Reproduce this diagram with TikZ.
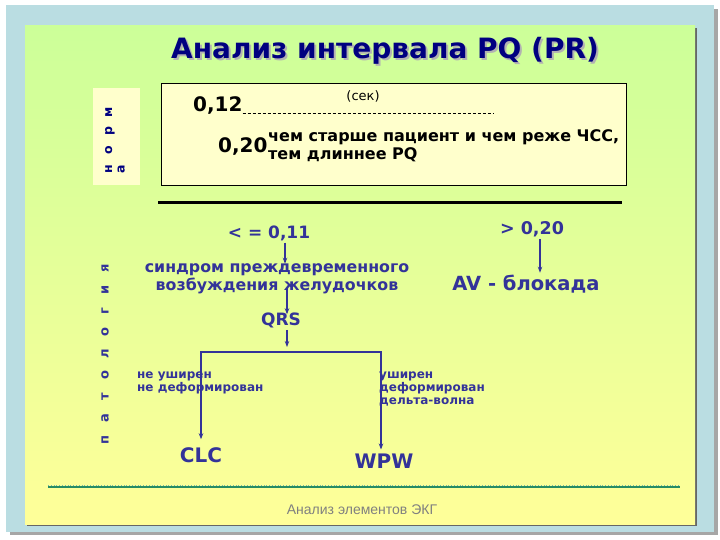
\documentclass[tikz,border=0pt]{standalone}
\usepackage{fontspec}
\setmainfont{DejaVu Sans}
\newfontfamily\footfont{Liberation Sans}
\usetikzlibrary{arrows.meta,calc}
\definecolor{bgblue}{RGB}{186,221,226}
\definecolor{topgreen}{RGB}{204,255,153}
\definecolor{botyellow}{RGB}{255,255,153}
\definecolor{boxfill}{RGB}{255,255,204}
\definecolor{navy}{RGB}{0,0,128}
\definecolor{txtblue}{RGB}{51,51,153}
\definecolor{dotgreen}{RGB}{38,140,100}
\newcommand\fs[1]{\fontsize{#1}{#1}\selectfont}
\newcommand\lt[2]{\makebox[#1pt]{#2}}
\newcommand\shadowed[1]{\rlap{\hspace{2pt}\raisebox{-2pt}{\textcolor{gray!60}{#1}}}#1}
\begin{document}
\begin{tikzpicture}[x=1pt,y=-1pt,
  txt/.style={inner sep=0pt,text=txtblue,font=\bfseries},
  arr/.style={draw=txtblue,line width=1.7pt,-{Stealth[length=6pt,width=4.5pt]}},
  ln/.style={draw=txtblue,line width=2pt}]
\useasboundingbox (0,0) rectangle (720,540);
\fill[white] (0,0) rectangle (720,540);
% frames
\fill[gray!70] (10,9) rectangle (718,535);
\fill[bgblue] (6,5) rectangle (714,532);
\fill[gray!80!black] (27,28) rectangle (697,526);
\shade[top color=topgreen,bottom color=botyellow] (25,26) rectangle (695,524);
% title
\node[inner sep=0pt,font=\fs{28}\bfseries,text=navy] (title) at (385,52) {\shadowed{Анализ интервала PQ (PR)}};
% norma
\node[fill=boxfill,minimum width=47pt,minimum height=97pt,inner sep=0pt] (nbox) at (116.5,136.5) {};
\node[inner sep=0pt,rotate=90,anchor=center,font=\fs{12.5}\bfseries,text=navy,align=left] (norma) at (115,141)
  {\lt{19}{н}\lt{19}{о}\lt{19}{р}\lt{19}{м}\\\lt{19}{а}};
\node[draw=black,fill=boxfill,line width=0.8pt,minimum width=465pt,minimum height=102pt,inner sep=0pt] (mbox) at (393.5,134) {};
\node[inner sep=0pt,font=\fs{13}] (sek) at (363,96) {(сек)};
\node[inner sep=0pt,font=\fs{20}\bfseries,anchor=west] (n12) at (193,106) {0,12};
\coordinate (dEnd) at (493,113);
\draw[dashed,dash pattern=on 3pt off 2pt,line width=0.6pt] (n12.south east |- dEnd) -- (dEnd);
\node[inner sep=0pt,font=\fs{20}\bfseries,anchor=west] (n20) at (218,147) {0,20};
\node[inner sep=0pt,font=\fs{16}\bfseries,anchor=west] (older) at (268,137) {чем старше пациент и чем реже ЧСС,};
\node[inner sep=0pt,font=\fs{16}\bfseries,anchor=west] (longer) at (268,155) {тем длиннее PQ};
% divider
\coordinate (divL) at (158,203);
\coordinate (divR) at (622,203);
\draw[line width=3pt] (divL) -- (divR);
% pathology label
\node[inner sep=0pt,rotate=90,font=\fs{13}\bfseries,text=txtblue] (patol) at (105,354)
  {\lt{21.5}{п}\lt{21.5}{а}\lt{21.5}{т}\lt{21.5}{о}\lt{21.5}{л}\lt{21.5}{о}\lt{21.5}{г}\lt{21.5}{и}\lt{21.5}{я}};
% tree
\node[txt,font=\fs{17}\bfseries] (le) at (269,233) {< = 0,11};
\node[txt,font=\fs{17.5}\bfseries] (gt) at (532,229) {> 0,20};
\node[txt,font=\fs{15.8}\bfseries,align=center] (synd) at (277,279) {синдром преждевременного\\[1pt]возбуждения желудочков};
\node[txt,font=\fs{19.5}\bfseries] (av) at (526,284) {AV - блокада};
\node[txt,font=\fs{17}\bfseries] (qrs) at (281,320) {QRS};
\coordinate (xA) at (285,0);
\coordinate (xB) at (540,0);
\coordinate (xC) at (287,0);
\draw[arr] (le.south -| xA) ++(0,2) -- (synd.north -| xA);
\draw[arr] (gt.south -| xB) ++(0,2) -- ($(av.north -| xB)+(0,-2)$);
\draw[arr] ($(synd.south -| xC)+(0,-6)$) -- ($(qrs.north -| xC)+(0,2)$);
\coordinate (brL) at (201,352);
\coordinate (brR) at (381,352);
\draw[arr] (qrs.south -| xC) ++(0,2) -- ($(brL -| xC)+(0,-5)$);
\draw[ln] (brL) -- (brR);
\node[txt,font=\fs{12}\bfseries,anchor=west,align=left] (narrow) at (137,383) {не уширен\\[1pt]не деформирован};
\node[txt,font=\fs{12}\bfseries,anchor=north west,align=left] (wide) at (379,372) {уширен\\[1pt]деформирован\\[1pt]дельта-волна};
\node[txt,font=\fs{20}\bfseries] (clc) at (201,455) {CLC};
\node[txt,font=\fs{20}\bfseries] (wpw) at (384,461) {WPW};
\draw[arr] ($(brL)+(0,-1)$) -- ($(clc.north)+(0,-8)$);
\draw[arr] ($(brR)+(0,-1)$) -- ($(wpw.north -| brR)+(0,-4)$);
% bottom line and footer
\coordinate (fL) at (48,487);
\coordinate (fR) at (680,487);
\draw[dotgreen,line width=2.5pt] (fL) -- (fR);
\draw[dotgreen!60!white,line width=0.8pt,dotted] ($(fL)+(0,-1.2)$) -- ($(fR)+(0,-1.2)$);
\node[inner sep=0pt,font=\footfont\fs{14},text=gray] (foot) at (362,510) {Анализ элементов ЭКГ};
\end{tikzpicture}
\end{document}
